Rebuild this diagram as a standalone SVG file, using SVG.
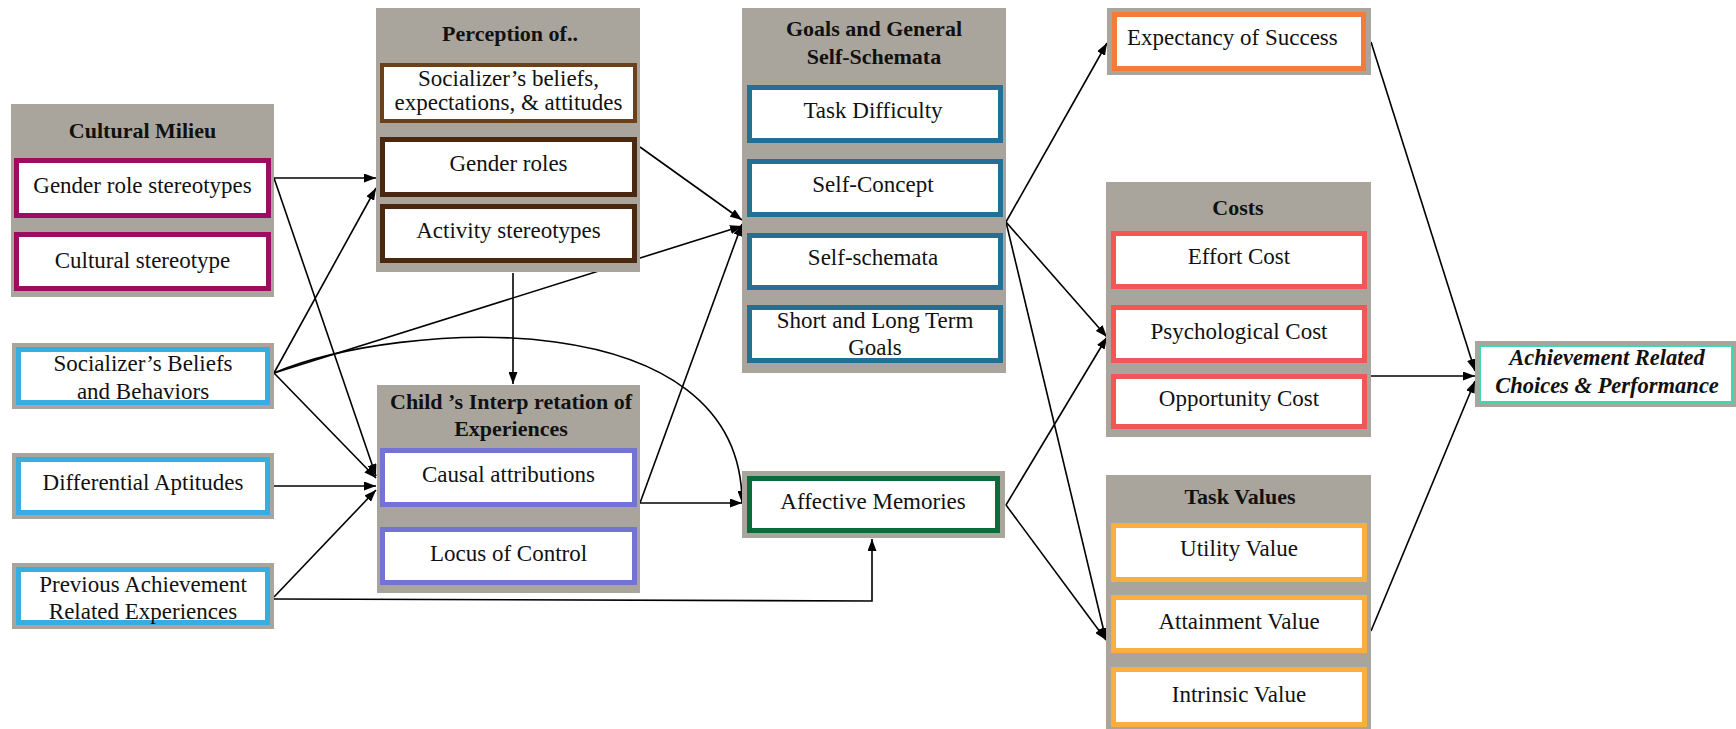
<svg xmlns="http://www.w3.org/2000/svg" width="1736" height="729" viewBox="0 0 1736 729">
  <defs>
    <marker id="ah" markerUnits="userSpaceOnUse" markerWidth="12" markerHeight="9" refX="12" refY="4.5" orient="auto">
      <path d="M0,0 L12,4.5 L0,9 Z" fill="#000"/>
    </marker>
    <style>
      .cl { fill: #a9a59d; }
      .t { font-family: "Liberation Serif", "Times New Roman", serif; font-size: 23px; fill: #111; text-anchor: middle; }
      .h { font-weight: bold; font-size: 22px; }
      .bi { font-weight: bold; font-style: italic; font-size: 22.5px; }
      .box { fill: #fff; stroke-width: 5; }
      .mag { stroke: #9a0d63; }
      .sky { stroke: #37ade1; }
      .br1 { stroke: #6e4018; stroke-width: 4; }
      .br2 { stroke: #4a2810; }
      .peri { stroke: #7373d3; }
      .teal { stroke: #236f96; }
      .grn { stroke: #0b6b3a; }
      .org { stroke: #f57b3b; }
      .red { stroke: #f25656; }
      .yel { stroke: #f9ae3e; }
      .mint { stroke: #3fd6b4; stroke-width: 2; }
      .e { fill: none; stroke: #000; stroke-width: 1.6; marker-end: url(#ah); }
    </style>
  </defs>

  <!-- connectors (drawn first so the node boxes sit on top) -->
  <g id="connectors">
    <path class="e" d="M274,178 L376,178"/>
    <path class="e" d="M274,178 L376,476"/>
    <path class="e" d="M274,373 L376,188"/>
    <path class="e" d="M274,373 L742,226"/>
    <path class="e" d="M274,373 L376,478"/>
    <path class="e" d="M274,373 C400,320 742,300 742,503"/>
    <path class="e" d="M274,486 L376,486"/>
    <path class="e" d="M274,597 L376,490"/>
    <path class="e" d="M274,599 L872,601 L872,539"/>
    <path class="e" d="M640,147 L742,220"/>
    <path class="e" d="M513,273 L513,384"/>
    <path class="e" d="M640,503 L742,224"/>
    <path class="e" d="M640,503 L742,503"/>
    <path class="e" d="M1006,222 L1107,43"/>
    <path class="e" d="M1006,222 L1107,337"/>
    <path class="e" d="M1006,222 L1106,640"/>
    <path class="e" d="M1006,505 L1107,337"/>
    <path class="e" d="M1006,505 L1106,640"/>
    <path class="e" d="M1371,42 L1475,371"/>
    <path class="e" d="M1371,376 L1475,376"/>
    <path class="e" d="M1371,631 L1475,381"/>
  </g>

  <!-- Cultural Milieu -->
  <g id="cultural-milieu">
    <rect class="cl" x="11" y="104" width="263" height="193"/>
    <text class="t h" x="142.5" y="138">Cultural Milieu</text>
    <rect class="box mag" x="16.5" y="160.5" width="252" height="55"/>
    <text class="t" x="142.5" y="193">Gender role stereotypes</text>
    <rect class="box mag" x="16.5" y="234.5" width="252" height="54"/>
    <text class="t" x="142.5" y="268">Cultural stereotype</text>
  </g>

  <g id="socializer-beliefs">
    <rect class="cl" x="12" y="343" width="262" height="66"/>
    <rect class="box sky" x="18.5" y="349.5" width="249" height="53"/>
    <text class="t" x="143" y="371">Socializer’s Beliefs</text>
    <text class="t" x="143" y="399">and Behaviors</text>
  </g>

  <g id="differential-aptitudes">
    <rect class="cl" x="12" y="453" width="262" height="66"/>
    <rect class="box sky" x="18.5" y="459.5" width="249" height="53"/>
    <text class="t" x="143" y="490">Differential Aptitudes</text>
  </g>

  <g id="previous-achievement">
    <rect class="cl" x="12" y="563" width="262" height="66"/>
    <rect class="box sky" x="18.5" y="569.5" width="249" height="53"/>
    <text class="t" x="143" y="592">Previous Achievement</text>
    <text class="t" x="143" y="619">Related Experiences</text>
  </g>

  <!-- Perception of.. -->
  <g id="perception">
    <rect class="cl" x="376" y="8" width="264" height="264"/>
    <text class="t h" x="510" y="41">Perception of..</text>
    <rect class="box br1" x="382" y="65" width="253" height="56"/>
    <text class="t" x="508.5" y="86">Socializer’s beliefs,</text>
    <text class="t" x="508.5" y="110">expectations, &amp; attitudes</text>
    <rect class="box br2" x="382.5" y="139.5" width="252" height="55"/>
    <text class="t" x="508.5" y="171">Gender roles</text>
    <rect class="box br2" x="382.5" y="206.5" width="252" height="54"/>
    <text class="t" x="508.5" y="238">Activity stereotypes</text>
  </g>

  <!-- Child's interpretation -->
  <g id="child-interpretation">
    <rect class="cl" x="377" y="385" width="263" height="208"/>
    <text class="t h" x="511" y="409">Child ’s Interp retation of</text>
    <text class="t h" x="511" y="436">Experiences</text>
    <rect class="box peri" x="382.5" y="450.5" width="252" height="54"/>
    <text class="t" x="508.5" y="482">Causal attributions</text>
    <rect class="box peri" x="382.5" y="529.5" width="252" height="53"/>
    <text class="t" x="508.5" y="561">Locus of Control</text>
  </g>

  <!-- Goals and General Self-Schemata -->
  <g id="goals-self-schemata">
    <rect class="cl" x="742" y="8" width="264" height="365"/>
    <text class="t h" x="874" y="36">Goals and General</text>
    <text class="t h" x="874" y="64">Self-Schemata</text>
    <rect class="box teal" x="749.5" y="87.5" width="251" height="53"/>
    <text class="t" x="873" y="118">Task Difficulty</text>
    <rect class="box teal" x="749.5" y="161.5" width="251" height="53"/>
    <text class="t" x="873" y="192">Self-Concept</text>
    <rect class="box teal" x="749.5" y="235.5" width="251" height="52"/>
    <text class="t" x="873" y="265">Self-schemata</text>
    <rect class="box teal" x="749.5" y="307.5" width="251" height="53"/>
    <text class="t" x="875" y="328">Short and Long Term</text>
    <text class="t" x="875" y="355">Goals</text>
  </g>

  <g id="affective-memories">
    <rect class="cl" x="742" y="471" width="263" height="67"/>
    <rect class="box grn" x="749.5" y="478.5" width="248" height="52"/>
    <text class="t" x="873" y="509">Affective Memories</text>
  </g>

  <g id="expectancy-success">
    <rect class="cl" x="1107" y="8" width="264" height="67"/>
    <rect class="box org" x="1114.5" y="14.5" width="249" height="54"/>
    <text class="t" x="1127" y="45" style="text-anchor:start">Expectancy of Success</text>
  </g>

  <!-- Costs -->
  <g id="costs">
    <rect class="cl" x="1106" y="182" width="265" height="255"/>
    <text class="t h" x="1238" y="215">Costs</text>
    <rect class="box red" x="1113.5" y="233.5" width="251" height="53"/>
    <text class="t" x="1239" y="264">Effort Cost</text>
    <rect class="box red" x="1113.5" y="307.5" width="251" height="53"/>
    <text class="t" x="1239" y="339">Psychological Cost</text>
    <rect class="box red" x="1113.5" y="376.5" width="251" height="50"/>
    <text class="t" x="1239" y="406">Opportunity Cost</text>
  </g>

  <!-- Task Values -->
  <g id="task-values">
    <rect class="cl" x="1106" y="475" width="265" height="260"/>
    <text class="t h" x="1240" y="504">Task Values</text>
    <rect class="box yel" x="1113.5" y="525.5" width="251" height="54"/>
    <text class="t" x="1239" y="556">Utility Value</text>
    <rect class="box yel" x="1113.5" y="597.5" width="251" height="53"/>
    <text class="t" x="1239" y="629">Attainment Value</text>
    <rect class="box yel" x="1113.5" y="669.5" width="251" height="55"/>
    <text class="t" x="1239" y="702">Intrinsic Value</text>
  </g>

  <g id="achievement">
    <rect class="cl" x="1475" y="341" width="261" height="66"/>
    <rect class="box mint" x="1480" y="346" width="252" height="56"/>
    <text class="t bi" x="1607" y="365">Achievement Related</text>
    <text class="t bi" x="1607" y="393">Choices &amp; Performance</text>
  </g>
</svg>
